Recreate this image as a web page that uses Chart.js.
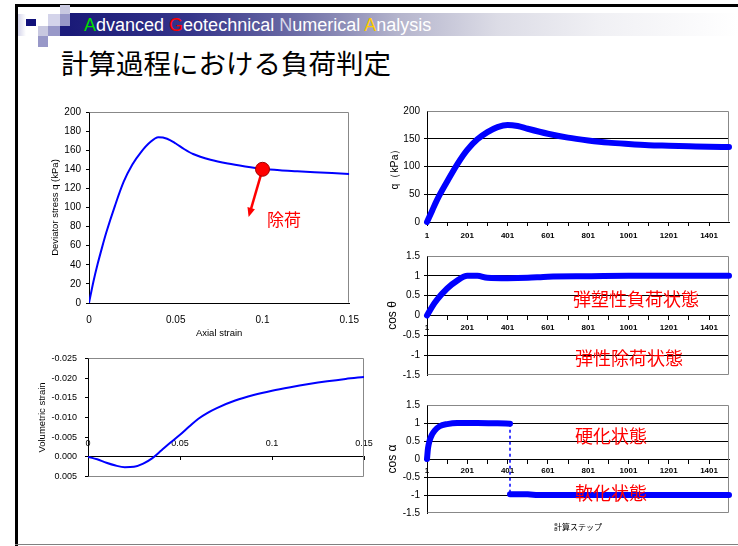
<!DOCTYPE html>
<html lang="ja">
<head>
<meta charset="utf-8">
<title>計算過程における負荷判定</title>
<script src="https://cdn.jsdelivr.net/npm/chart.js@4.4.1/dist/chart.umd.min.js"></script>
<style>
  html, body { margin: 0; padding: 0; background: #fff; }
  #slide { position: relative; width: 738px; height: 546px; overflow: hidden; font-family: "Liberation Sans", Arial, sans-serif; }
  .abs { position: absolute; }
  canvas { position: absolute; }
  .note { position: absolute; color: #ff0000; font-family: "Noto Sans CJK JP", sans-serif; font-size: 18px; line-height: 18px; white-space: nowrap; }
</style>
</head>
<body>
<div id="slide">
  <!-- slide frame -->
  <div class="abs" style="left:15px;top:4px;width:3px;height:542px;background:#000"></div>
  <div class="abs" style="left:15px;top:4px;width:723px;height:3px;background:#000"></div>
  <div class="abs" style="left:15px;top:544px;width:723px;height:1px;background:#808080"></div>

  <!-- header decoration -->
  <div class="abs" style="left:18px;top:14px;width:8px;height:22px;background:linear-gradient(to right,#d4d4ea,#fff)"></div>
  <div class="abs" style="left:26px;top:19px;width:10px;height:7px;background:#10107a"></div>
  <div class="abs" style="left:60px;top:5px;width:10px;height:9px;background:#c8c8e0"></div>
  <div class="abs" style="left:48px;top:14px;width:12px;height:12px;background:#d4d4ea"></div>
  <div class="abs" style="left:60px;top:14px;width:10px;height:12px;background:#9898c8"></div>
  <div class="abs" style="left:38px;top:26px;width:10px;height:10px;background:#c8c8e0"></div>
  <div class="abs" style="left:48px;top:26px;width:12px;height:10px;background:#9898c8"></div>
  <div class="abs" style="left:60px;top:26px;width:10px;height:10px;background:#1c1c7c"></div>
  <div class="abs" style="left:38px;top:36px;width:10px;height:11px;background:#9898c8"></div>
  <div class="abs" style="left:70px;top:13px;width:668px;height:23px;background:linear-gradient(to right,#1a1a78 0%,#35358a 18%,#6d6da6 34%,#b4b4cc 49%,#dcdce6 64%,#f0f0f4 79%,#ffffff 100%)"></div>
  <div class="abs" style="left:84px;top:16px;font-size:18px;line-height:18px;color:#fff;white-space:nowrap">
    <span style="color:#00dd00">A</span>dvanced <span style="color:#ff0000">G</span>eotechnical <span style="color:#d8d8e8">N</span>umerical <span style="color:#ffcc00">A</span>nalysis
  </div>

  <div class="abs" style="left:61px;top:49px;font-family:'Noto Sans CJK JP',sans-serif;font-size:27.5px;line-height:27px;color:#000;white-space:nowrap">計算過程における負荷判定</div>

  <canvas id="stressChart" width="340" height="245" style="left:30px;top:100px"></canvas>
  <canvas id="volChart" width="350" height="145" style="left:30px;top:345px"></canvas>
  <canvas id="qStepChart" width="358" height="145" style="left:380px;top:100px"></canvas>
  <canvas id="thetaChart" width="358" height="140" style="left:380px;top:245px"></canvas>
  <canvas id="alphaChart" width="358" height="160" style="left:380px;top:385px"></canvas>

  <div class="note" style="left:267px;top:210px;font-size:17px;line-height:17px">除荷</div>
  <div class="note" style="left:573px;top:289px">弾塑性負荷状態</div>
  <div class="note" style="left:575px;top:348px">弾性除荷状態</div>
  <div class="note" style="left:575px;top:426px">硬化状態</div>
  <div class="note" style="left:575px;top:483px">軟化状態</div>
</div>

<script>
// stress-strain curve
const strain = [0, 0.0025, 0.005, 0.0075, 0.01, 0.015, 0.02, 0.025, 0.03, 0.035, 0.04, 0.045, 0.05, 0.055, 0.06, 0.07, 0.08, 0.09, 0.1, 0.11, 0.12, 0.13, 0.14, 0.15];
const devStress = [0, 22, 41, 58, 74, 102, 127, 145, 158, 168, 173.5, 172, 167, 161, 156, 150, 146, 143, 140.5, 139, 138, 137, 136, 135];
const strainTicks = [0, 0.05, 0.1, 0.15];
const stressTicks = [0, 20, 40, 60, 80, 100, 120, 140, 160, 180, 200];
const unloadPoint = [0.1, 140];
const arrowTip = [0.092, 90];

// volumetric strain curve
const volStrainX = [0, 0.005, 0.01, 0.015, 0.02, 0.025, 0.03, 0.035, 0.04, 0.045, 0.05, 0.055, 0.06, 0.065, 0.07, 0.08, 0.09, 0.1, 0.11, 0.12, 0.13, 0.14, 0.15];
const volStrain = [0, 0.0006, 0.0015, 0.0022, 0.0026, 0.0025, 0.0017, 0.0003, -0.0017, -0.0037, -0.0056, -0.0077, -0.0097, -0.0112, -0.0124, -0.0143, -0.0157, -0.0168, -0.0177, -0.0185, -0.0192, -0.0198, -0.0203];
const volTicks = [-0.025, -0.02, -0.015, -0.01, -0.005, 0, 0.005];

// q per calculation step
const qSteps = [1, 26, 51, 101, 151, 201, 251, 301, 351, 401, 451, 501, 601, 701, 801, 901, 1001, 1101, 1201, 1301, 1401, 1500];
const qValues = [0, 20, 40, 73, 104, 130, 149, 162, 171, 175, 173, 168, 159, 152, 147, 143, 140.5, 138.5, 137.5, 136.5, 135.5, 135];
const qTicks = [0, 50, 100, 150, 200];

// cos theta per step
const thetaSteps = [1, 26, 51, 101, 151, 201, 251, 301, 401, 501, 601, 801, 1001, 1201, 1500];
const cosTheta = [0, 0.22, 0.4, 0.68, 0.88, 1.0, 1.0, 0.95, 0.94, 0.95, 0.98, 0.99, 1.0, 1.0, 1.0];

// cos alpha per step (hardening, then softening)
const hardSteps = [1, 6, 14, 26, 39, 64, 101, 151, 251, 351, 413];
const cosAlphaHard = [0, 0.3, 0.51, 0.68, 0.79, 0.91, 0.97, 1.0, 1.0, 0.99, 0.98];
const softSteps = [413, 501, 541, 1500];
const cosAlphaSoft = [-0.98, -0.98, -1.0, -1.0];
const dropSteps = [413, 413];
const dropValues = [0.98, -0.98];

const cosTicks = [-1.5, -1, -0.5, 0, 0.5, 1, 1.5];
const stepTicks = [1, 101, 201, 301, 401, 501, 601, 701, 801, 901, 1001, 1101, 1201, 1301, 1401];
const stepLabels = [1, 201, 401, 601, 801, 1001, 1201, 1401];

Chart.defaults.font.family = '"Liberation Sans", Arial, sans-serif';
Chart.defaults.color = '#000';

const BLUE = '#0000ff';
const pairs = (xs, ys) => xs.map((x, i) => ({ x: x, y: ys[i] }));
const tickList = list => scale => { scale.ticks = list.map(v => ({ value: v })); };

const plotFrame = {
  id: 'plotFrame',
  beforeDatasetsDraw(chart, args, opts) {
    const a = chart.chartArea, ctx = chart.ctx;
    const l = Math.round(a.left) + 0.5, r = Math.round(a.right) - 0.5;
    const t = Math.round(a.top) + 0.5, b = Math.round(a.bottom) - 0.5;
    const sides = opts.sides || [];
    ctx.save();
    ctx.strokeStyle = '#888';
    ctx.lineWidth = 1;
    ctx.beginPath();
    if (sides.includes('top')) { ctx.moveTo(l, t); ctx.lineTo(r, t); }
    if (sides.includes('right')) { ctx.moveTo(r, t); ctx.lineTo(r, b); }
    if (sides.includes('bottom')) { ctx.moveTo(l, b); ctx.lineTo(r, b); }
    ctx.stroke();
    ctx.restore();
  }
};

const unloadArrow = {
  id: 'unloadArrow',
  beforeDatasetsDraw(chart) {
    const { ctx, scales: { x, y } } = chart;
    const x0 = x.getPixelForValue(unloadPoint[0]), y0 = y.getPixelForValue(unloadPoint[1]);
    const x1 = x.getPixelForValue(arrowTip[0]), y1 = y.getPixelForValue(arrowTip[1]);
    const ang = Math.atan2(y1 - y0, x1 - x0);
    const head = 10;
    ctx.save();
    ctx.strokeStyle = '#ff0000';
    ctx.fillStyle = '#ff0000';
    ctx.lineWidth = 2.5;
    ctx.beginPath();
    ctx.moveTo(x0, y0);
    ctx.lineTo(x1 - Math.cos(ang) * head * 0.7, y1 - Math.sin(ang) * head * 0.7);
    ctx.stroke();
    ctx.beginPath();
    ctx.moveTo(x1, y1);
    ctx.lineTo(x1 - head * Math.cos(ang - 0.4), y1 - head * Math.sin(ang - 0.4));
    ctx.lineTo(x1 - head * Math.cos(ang + 0.4), y1 - head * Math.sin(ang + 0.4));
    ctx.closePath();
    ctx.fill();
    ctx.restore();
  }
};

// edge gridlines are left to the frame plugin
const innerGrid = (min, max) => ctx => (ctx.tick && (ctx.tick.value === min || ctx.tick.value === max)) ? 'rgba(0,0,0,0)' : '#000';

function stepAxis(padding, extra) {
  return Object.assign({
    type: 'linear', min: 1, max: 1500,
    afterBuildTicks: tickList(stepTicks),
    grid: { drawOnChartArea: false, drawTicks: true, tickLength: 4, color: '#000' },
    border: { color: '#000' },
    ticks: {
      autoSkip: false, maxRotation: 0, padding: padding,
      font: { size: 8, weight: 'bold' },
      callback: v => stepLabels.includes(v) ? String(v) : ''
    }
  }, extra || {});
}

function renderStressChart() {
  new Chart(document.getElementById('stressChart'), {
    type: 'line',
    data: {
      datasets: [
        { data: [{ x: unloadPoint[0], y: unloadPoint[1] }], showLine: false, pointRadius: 7, pointBackgroundColor: '#ff0000', pointBorderColor: '#a00000', pointBorderWidth: 1 },
        { data: pairs(strain, devStress), borderColor: BLUE, borderWidth: 2, pointRadius: 0, cubicInterpolationMode: 'monotone' }
      ]
    },
    options: {
      responsive: false, animation: false,
      layout: { padding: { top: 12, right: 13, left: 0, bottom: 0 } },
      plugins: { legend: { display: false }, tooltip: { enabled: false }, plotFrame: { sides: ['top', 'right'] } },
      scales: {
        x: {
          type: 'linear', min: 0, max: 0.15,
          afterBuildTicks: tickList(strainTicks),
          afterFit: s => { s.height = 42; },
          grid: { drawOnChartArea: false, drawTicks: false },
          border: { color: '#000' },
          ticks: { padding: 11, font: { size: 10 }, callback: v => String(v) },
          title: { display: true, text: 'Axial strain', font: { size: 9.5 }, padding: { top: 0, bottom: 6.3 } }
        },
        y: {
          min: 0, max: 200,
          afterBuildTicks: tickList(stressTicks),
          afterFit: s => { s.width = 59; },
          grid: { drawOnChartArea: false, drawTicks: true, tickLength: 3, color: '#000' },
          border: { color: '#000' },
          ticks: { padding: 5, font: { size: 10 } },
          title: { display: true, text: 'Deviator stress q (kPa)', font: { size: 9.5 }, padding: { top: 19.3, bottom: 0 } }
        }
      }
    },
    plugins: [plotFrame, unloadArrow]
  });
}

function renderVolChart() {
  new Chart(document.getElementById('volChart'), {
    type: 'line',
    data: {
      datasets: [
        { data: pairs(volStrainX, volStrain), borderColor: BLUE, borderWidth: 2, pointRadius: 0, cubicInterpolationMode: 'monotone' }
      ]
    },
    options: {
      responsive: false, animation: false,
      layout: { padding: { top: 11, right: 16, left: 0, bottom: 9 } },
      plugins: { legend: { display: false }, tooltip: { enabled: false }, plotFrame: { sides: ['top', 'right', 'bottom'] } },
      scales: {
        x: {
          type: 'linear', min: 0, max: 0.15, position: { y: 0 },
          afterBuildTicks: tickList(strainTicks),
          grid: { drawOnChartArea: false, drawTicks: true, tickLength: 3, color: '#000' },
          border: { color: '#000' },
          ticks: { padding: -21.4, font: { size: 9 }, callback: v => String(v) }
        },
        y: {
          min: -0.025, max: 0.005, reverse: true,
          afterBuildTicks: tickList(volTicks),
          afterFit: s => { s.width = 58; },
          grid: { drawOnChartArea: false, drawTicks: true, tickLength: 3, color: '#000' },
          border: { color: '#000' },
          ticks: { padding: 8, font: { size: 9 }, callback: v => (Math.abs(v) < 1e-9 ? 0 : v).toFixed(3) },
          title: { display: true, text: 'Volumetric strain', font: { size: 9.5 }, padding: { top: 6.3, bottom: 0 } }
        }
      }
    },
    plugins: [plotFrame]
  });
}

function renderQStepChart() {
  new Chart(document.getElementById('qStepChart'), {
    type: 'line',
    data: {
      datasets: [
        { data: pairs(qSteps, qValues), borderColor: BLUE, borderWidth: 6, borderCapStyle: 'round', pointRadius: 0, cubicInterpolationMode: 'monotone', clip: false }
      ]
    },
    options: {
      responsive: false, animation: false,
      layout: { padding: { top: 11, right: 9, left: 0, bottom: 0 } },
      plugins: { legend: { display: false }, tooltip: { enabled: false }, plotFrame: { sides: ['top', 'right'] } },
      scales: {
        x: stepAxis(5.2, { afterFit: s => { s.height = 23; } }),
        y: {
          min: 0, max: 200,
          afterBuildTicks: tickList(qTicks),
          afterFit: s => { s.width = 47; },
          grid: { color: innerGrid(0, 200), drawTicks: true, tickLength: 3 },
          border: { color: '#000' },
          ticks: { padding: 4, font: { size: 10 } },
          title: { display: true, text: 'q（kPa）', font: { size: 10.5 }, padding: { top: 8.7, bottom: 0 } }
        }
      }
    },
    plugins: [plotFrame]
  });
}

function cosYAxis(titleText) {
  return {
    min: -1.5, max: 1.5,
    afterBuildTicks: tickList(cosTicks),
    afterFit: s => { s.width = 47; },
    grid: { color: innerGrid(-1.5, 1.5), drawTicks: true, tickLength: 3 },
    border: { color: '#000' },
    ticks: { padding: 4, font: { size: 10 }, callback: v => String(v) },
    title: { display: true, text: titleText, font: { size: 12 }, padding: { top: 5.8, bottom: 0 } }
  };
}

function renderThetaChart() {
  new Chart(document.getElementById('thetaChart'), {
    type: 'line',
    data: {
      datasets: [
        { data: pairs(thetaSteps, cosTheta), borderColor: BLUE, borderWidth: 6, borderCapStyle: 'round', pointRadius: 0, cubicInterpolationMode: 'monotone', clip: false }
      ]
    },
    options: {
      responsive: false, animation: false,
      layout: { padding: { top: 11, right: 9, left: 0, bottom: 8 } },
      plugins: { legend: { display: false }, tooltip: { enabled: false }, plotFrame: { sides: ['top', 'right', 'bottom'] } },
      scales: {
        x: stepAxis(3.5, { position: { y: 0 } }),
        y: cosYAxis('cos θ')
      }
    },
    plugins: [plotFrame]
  });
}

function renderAlphaChart() {
  new Chart(document.getElementById('alphaChart'), {
    type: 'line',
    data: {
      datasets: [
        { data: pairs(dropSteps, dropValues), borderColor: BLUE, borderWidth: 1.5, borderDash: [3, 3], pointRadius: 0 },
        { data: pairs(hardSteps, cosAlphaHard), borderColor: BLUE, borderWidth: 6, borderCapStyle: 'round', pointRadius: 0, cubicInterpolationMode: 'monotone', clip: false },
        { data: pairs(softSteps, cosAlphaSoft), borderColor: BLUE, borderWidth: 6, borderCapStyle: 'round', pointRadius: 0, clip: false }
      ]
    },
    options: {
      responsive: false, animation: false,
      layout: { padding: { top: 20, right: 9, left: 0, bottom: 0 } },
      plugins: { legend: { display: false }, tooltip: { enabled: false }, plotFrame: { sides: ['top', 'right', 'bottom'] } },
      scales: {
        x: stepAxis(2.9, { position: { y: 0 } }),
        x2: {
          type: 'linear', position: 'bottom',
          afterFit: s => { s.height = 32; },
          grid: { display: false },
          border: { display: false },
          ticks: { display: false },
          title: { display: true, text: '計算ステップ', font: { size: 8, family: '"Noto Sans CJK JP", sans-serif' }, padding: { top: 0, bottom: 13.2 } }
        },
        y: cosYAxis('cos α')
      }
    },
    plugins: [plotFrame]
  });
}

document.addEventListener('DOMContentLoaded', () => {
  renderStressChart();
  renderVolChart();
  renderQStepChart();
  renderThetaChart();
  renderAlphaChart();
});
</script>
</body>
</html>
